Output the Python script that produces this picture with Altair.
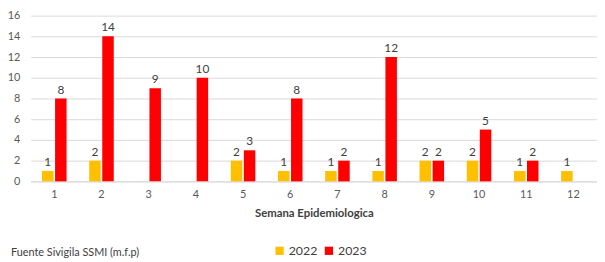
import altair as alt
import pandas as pd

weeks = [1, 2, 3, 4, 5, 6, 7, 8, 9, 10, 11, 12]
cases_2022 = [1, 2, None, None, 2, 1, 1, 1, 2, 2, 1, 1]
cases_2023 = [8, 14, 9, 10, 3, 8, 2, 12, 2, 5, 2, None]
years = ["2022", "2023"]
colors = ["#FFC000", "#FF0000"]
y_ticks = [0, 2, 4, 6, 8, 10, 12, 14, 16]
footnote = "Fuente Sivigila SSMI (m.f.p)"

rows = []
for w, a, b in zip(weeks, cases_2022, cases_2023):
    if a is not None:
        rows.append({"Semana": w, "Año": years[0], "Casos": a})
    if b is not None:
        rows.append({"Semana": w, "Año": years[1], "Casos": b})
df = pd.DataFrame(rows)

FONT = "Lato"

x = alt.X(
    "Semana:O",
    scale=alt.Scale(domain=weeks, paddingInner=0.48, paddingOuter=0.24),
    axis=alt.Axis(
        title="Semana Epidemiologica",
        titleFontWeight="bold",
        titleFontSize=11.5,
        titleColor="#404040",
        titlePadding=9,
        labelAngle=0,
        labelFontSize=11,
        labelColor="#595959",
        labelPadding=7,
        ticks=False,
        domainColor="#d9d9d9",
        grid=False,
    ),
)
xo = alt.XOffset("Año:N", scale=alt.Scale(domain=years, paddingInner=0.12))
y = alt.Y(
    "Casos:Q",
    scale=alt.Scale(domain=[0, 16], nice=False),
    axis=alt.Axis(
        title=None,
        values=y_ticks,
        domain=False,
        ticks=False,
        labelFontSize=11,
        labelColor="#595959",
        labelPadding=11,
        gridColor="#d9d9d9",
    ),
)

bars = alt.Chart(df).mark_bar().encode(
    x=x,
    xOffset=xo,
    y=y,
    color=alt.Color(
        "Año:N",
        scale=alt.Scale(domain=years, range=colors),
        legend=alt.Legend(
            title=None,
            orient="none",
            direction="horizontal",
            legendX=246,
            legendY=232,
            symbolType="square",
            symbolSize=70,
            symbolStrokeWidth=0,
            labelFontSize=12.5,
            labelColor="#404040",
            labelOffset=3,
            columnPadding=5,
        ),
    ),
)

labels = alt.Chart(df).mark_text(
    dy=-9, fontSize=12, color="#404040", font=FONT
).encode(x=x, xOffset=xo, y=y, text="Casos:Q")

foot = alt.Chart(pd.DataFrame({"t": [footnote]})).mark_text(
    align="left", baseline="alphabetic", fontSize=11, color="#404040", font=FONT
).encode(x=alt.value(-20), y=alt.value(244), text="t:N")

chart = (
    alt.layer(bars, labels, foot)
    .properties(
        width=574,
        height=168,
        autosize=alt.AutoSizeParams(type="none"),
        padding={"left": 23, "top": 6, "right": 0, "bottom": 80},
    )
    .configure(font=FONT)
    .configure_view(stroke=None)
    .configure_axis(labelFont=FONT, titleFont=FONT)
    .configure_legend(labelFont=FONT)
)

chart.save("out.html", embed_options={"renderer": "svg", "actions": False})
